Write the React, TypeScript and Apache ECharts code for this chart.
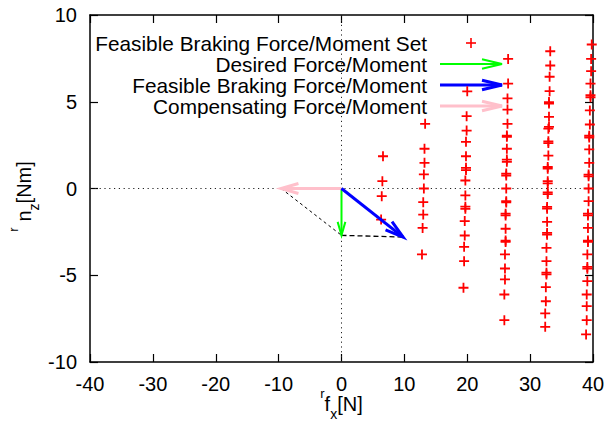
import React, { useEffect, useRef } from "react";
import * as echarts from "echarts";

// ---- data ----
const xTicks = [-40, -30, -20, -10, 0, 10, 20, 30, 40];
const yTicks = [-10, -5, 0, 5, 10];

const legendLabels = [
  "Feasible Braking Force/Moment Set",
  "Desired Force/Moment",
  "Feasible Braking Force/Moment",
  "Compensating Force/Moment",
];

const setColumn1 = [
  [6.6, 1.86], [6.5, 0.42], [6.4, -0.44], [6.3, -1.79],
];
const setColumn2 = [
  [13.3, 3.73], [13.2, 2.29], [13.2, 1.48], [13.1, 0.81], [13.1, 0.0],
  [13.0, -0.79], [13.0, -1.5], [12.9, -2.27], [12.8, -3.8],
];
const setColumn3 = [
  [20.0, 5.6], [19.9, 4.17], [19.9, 3.34], [19.8, 2.69], [19.8, 1.86],
  [19.8, 1.19], [19.8, 1.06], [19.7, 0.46], [19.7, -0.4], [19.7, -1.05],
  [19.7, -1.17], [19.6, -1.88], [19.6, -2.71], [19.5, -3.36], [19.5, -4.19],
  [19.4, -5.72],
];
const setColumn4 = [
  [26.5, 7.47], [26.5, 6.05], [26.4, 5.19], [26.4, 4.55], [26.4, 3.73],
  [26.3, 3.05], [26.3, 2.98], [26.3, 2.29], [26.3, 1.67], [26.3, 1.54],
  [26.2, 0.86], [26.2, 0.75], [26.2, 0.0], [26.2, -0.73], [26.2, -0.8],
  [26.1, -1.45], [26.1, -1.55], [26.1, -2.32], [26.1, -3.0], [26.1, -3.08],
  [26.0, -3.8], [26.0, -4.61], [26.0, -5.24], [25.9, -6.11], [25.9, -7.59],
];
const setColumn5 = [
  [33.2, 7.91], [33.2, 7.09], [33.1, 6.44], [33.1, 5.61], [33.0, 4.98],
  [33.0, 4.9], [33.0, 4.13], [33.0, 3.55], [32.9, 3.45], [32.9, 2.72],
  [32.9, 2.62], [32.9, 1.9], [32.8, 1.24], [32.8, 1.14], [32.8, 0.42],
  [32.8, 0.3], [32.8, -0.22], [32.8, -0.32], [32.7, -1.06], [32.7, -1.16],
  [32.7, -1.92], [32.7, -2.56], [32.7, -2.66], [32.6, -3.42], [32.6, -4.19],
  [32.6, -4.85], [32.6, -4.95], [32.5, -5.69], [32.5, -6.5], [32.4, -7.2],
  [32.4, -7.97],
];
const setColumn6 = [
  [39.8, 8.3], [39.7, 7.47], [39.7, 6.76], [39.6, 6.05], [39.6, 5.38],
  [39.6, 5.26], [39.5, 4.5], [39.5, 3.69], [39.4, 3.04], [39.4, 2.94],
  [39.4, 2.25], [39.4, 1.48], [39.3, 0.8], [39.3, 0.7], [39.3, 0.0],
  [39.3, -0.73], [39.2, -1.45], [39.2, -1.55], [39.2, -2.27], [39.2, -3.0],
  [39.2, -3.08], [39.1, -3.8], [39.1, -4.52], [39.1, -4.62], [39.1, -5.34],
  [39.0, -6.11], [39.0, -6.78], [39.0, -7.59], [38.9, -8.41],
];

const desiredArrow = [0, 0, 0, -2.7];
const feasibleArrow = [0, 0, 9.8, -2.8];
const compensatingArrow = [0, 0, -9.6, 0];

const dashCompToDesired = [[-9.6, 0], [0, -2.7]];
const dashDesiredToFeasible = [[0, -2.7], [9.8, -2.8]];
const zeroVertical = [[0, -10], [0, 10]];
const zeroHorizontal = [[-40, 0], [40, 0]];

// ---- styling ----
const FONT = "'Liberation Sans', Arial, Helvetica, sans-serif";
const RED = "#ff0000";
const GREEN = "#00ff00";
const BLUE = "#0000ff";
const PINK = "#ffc0cb";
const PLUS = "path://M0,4.1L10,4.1L10,5.9L0,5.9Z M4.1,0L5.9,0L5.9,10L4.1,10Z";

const allSetPoints = [
  ...setColumn1, ...setColumn2, ...setColumn3,
  ...setColumn4, ...setColumn5, ...setColumn6,
];

function arrowSeries(data: number[], color: string, width: number, headLen: number) {
  return {
    type: "custom",
    silent: true,
    z: 5,
    data: [data],
    renderItem: (_params: any, api: any) => {
      const p0 = api.coord([api.value(0), api.value(1)]);
      const p1 = api.coord([api.value(2), api.value(3)]);
      const a = Math.atan2(p1[1] - p0[1], p1[0] - p0[0]);
      const th = (16 * Math.PI) / 180;
      const h1 = [p1[0] - headLen * Math.cos(a - th), p1[1] - headLen * Math.sin(a - th)];
      const h2 = [p1[0] - headLen * Math.cos(a + th), p1[1] - headLen * Math.sin(a + th)];
      return {
        type: "group",
        children: [
          {
            type: "line",
            shape: { x1: p0[0], y1: p0[1], x2: p1[0], y2: p1[1] },
            style: { stroke: color, lineWidth: width },
          },
          {
            type: "polyline",
            shape: { points: [h1, p1, h2] },
            style: { stroke: color, lineWidth: width, fill: null },
          },
        ],
      };
    },
  };
}

function legendArrow(y: number, color: string, width: number) {
  return {
    type: "group",
    children: [
      {
        type: "line",
        shape: { x1: 440, y1: y, x2: 502, y2: y },
        style: { stroke: color, lineWidth: width },
      },
      {
        type: "polyline",
        shape: { points: [[482, y - 4.8], [502, y], [482, y + 4.8]] },
        style: { stroke: color, lineWidth: width, fill: null },
      },
    ],
  };
}

export default function App() {
  const ref = useRef<HTMLDivElement>(null);
  useEffect(() => {
    if (!ref.current) return;
    const chart = echarts.init(ref.current, null, { renderer: "svg" });
    const axisCommon = {
      type: "value",
      axisLine: { show: true, onZero: false, lineStyle: { color: "#000", width: 1.5 } },
      axisTick: { show: true, inside: true, length: 8, lineStyle: { color: "#000", width: 1.2 } },
      splitLine: { show: false },
    };
    const richName = {
      m: { fontSize: 20, fontFamily: FONT, color: "#000", lineHeight: 34 },
      r: { fontSize: 13, fontFamily: FONT, color: "#000", lineHeight: 14, verticalAlign: "top" },
      ry: { fontSize: 13, fontFamily: FONT, color: "#000", lineHeight: 14, verticalAlign: "top", padding: [0, 6, 0, 0] },
      s: { fontSize: 14, fontFamily: FONT, color: "#000", lineHeight: 18, verticalAlign: "bottom" },
    };
    const legendY = [43, 64, 85, 106];
    chart.setOption({
      animation: false,
      grid: { left: 90, right: 13, top: 15, bottom: 60, outerBoundsMode: "none", containLabel: false },
      xAxis: [
        {
          ...axisCommon,
          min: xTicks[0],
          max: xTicks[xTicks.length - 1],
          interval: xTicks[1] - xTicks[0],
          position: "bottom",
          axisLabel: { color: "#000", fontSize: 20, fontFamily: FONT, margin: 12 },
          name: "{r|r}{m|f}{s|x}{m|[N]}",
          nameLocation: "middle",
          nameGap: 25,
          nameMoveOverlap: false,
          nameTextStyle: { rich: richName },
        },
        {
          ...axisCommon,
          min: xTicks[0],
          max: xTicks[xTicks.length - 1],
          interval: xTicks[1] - xTicks[0],
          position: "top",
          axisLabel: { show: false },
        },
      ],
      yAxis: [
        {
          ...axisCommon,
          min: yTicks[0],
          max: yTicks[yTicks.length - 1],
          interval: yTicks[1] - yTicks[0],
          position: "left",
          axisLabel: { color: "#000", fontSize: 20, fontFamily: FONT, margin: 13 },
          name: "{ry|r}{m|n}{s|z}{m|[Nm]}",
          nameLocation: "middle",
          nameRotate: 90,
          nameGap: 49,
          nameMoveOverlap: false,
          nameTextStyle: { rich: richName, padding: [0, 16, 0, 0] },
        },
        {
          ...axisCommon,
          min: yTicks[0],
          max: yTicks[yTicks.length - 1],
          interval: yTicks[1] - yTicks[0],
          position: "right",
          axisLabel: { show: false },
        },
      ],
      series: [
        {
          type: "line",
          data: zeroVertical,
          symbol: "none",
          silent: true,
          lineStyle: { color: "#222", width: 1, type: [1.2, 3.6] },
        },
        {
          type: "line",
          data: zeroHorizontal,
          symbol: "none",
          silent: true,
          lineStyle: { color: "#222", width: 1, type: [1.2, 3.6] },
        },
        {
          type: "line",
          data: dashCompToDesired,
          symbol: "none",
          silent: true,
          lineStyle: { color: "#000", width: 1, type: [3, 3] },
        },
        {
          type: "line",
          data: dashDesiredToFeasible,
          symbol: "none",
          silent: true,
          lineStyle: { color: "#000", width: 1.3, type: [5, 3] },
        },
        {
          type: "scatter",
          data: allSetPoints,
          symbol: PLUS,
          symbolSize: 10,
          silent: true,
          itemStyle: { color: RED, opacity: 1 },
          z: 3,
        },
        arrowSeries(desiredArrow, GREEN, 2, 14),
        arrowSeries(compensatingArrow, PINK, 3, 18),
        arrowSeries(feasibleArrow, BLUE, 3, 19),
      ],
      graphic: [
        ...legendLabels.map((t, i) => ({
          type: "text",
          x: 427,
          y: legendY[i],
          style: {
            text: t,
            fill: "#000",
            font: `20.8px ${FONT}`,
            textAlign: "right",
            textVerticalAlign: "middle",
          },
        })),
        {
          type: "group",
          children: [
            { type: "line", shape: { x1: 466, y1: legendY[0], x2: 476, y2: legendY[0] }, style: { stroke: RED, lineWidth: 1.6 } },
            { type: "line", shape: { x1: 471, y1: legendY[0] - 5, x2: 471, y2: legendY[0] + 5 }, style: { stroke: RED, lineWidth: 1.6 } },
          ],
        },
        legendArrow(legendY[1], GREEN, 2),
        legendArrow(legendY[2], BLUE, 3),
        legendArrow(legendY[3], PINK, 3),
      ],
    });
    return () => chart.dispose();
  }, []);
  return (
    <div
      ref={ref}
      style={{ position: "fixed", left: 0, top: 0, width: 606, height: 422, background: "#fff" }}
    />
  );
}
